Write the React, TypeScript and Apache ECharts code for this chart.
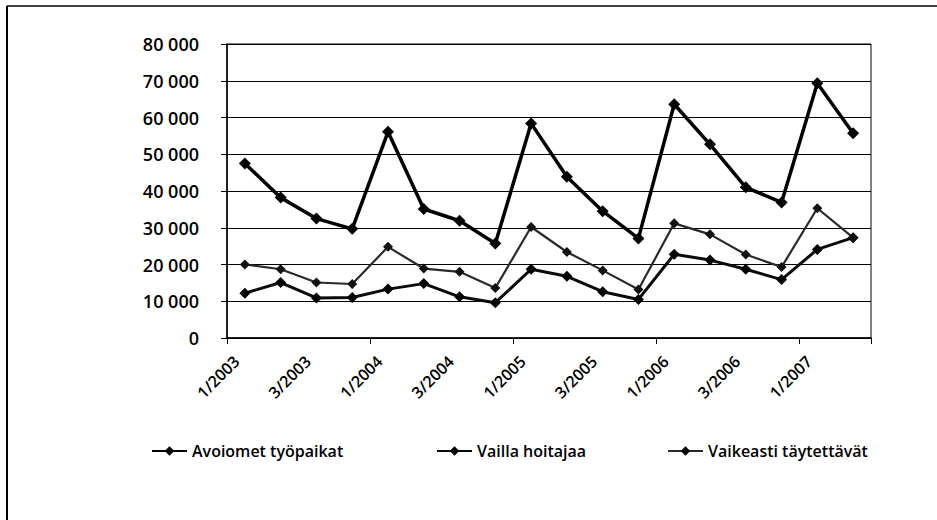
import React, { useEffect, useRef } from "react";
import * as echarts from "echarts";

const categories = [
  "1/2003", "2/2003", "3/2003", "4/2003",
  "1/2004", "2/2004", "3/2004", "4/2004",
  "1/2005", "2/2005", "3/2005", "4/2005",
  "1/2006", "2/2006", "3/2006", "4/2006",
  "1/2007", "2/2007",
];

const avoiomet = [47500, 38200, 32500, 29700, 56100, 35100, 31900, 25700, 58400, 43900, 34500, 27100, 63600, 52700, 41000, 36900, 69300, 55700];
const vaillaHoitajaa = [12200, 15100, 10900, 11000, 13300, 14800, 11200, 9600, 18700, 16800, 12600, 10500, 22800, 21200, 18700, 15900, 24100, 27300];
const vaikeasti = [20000, 18700, 15100, 14700, 24800, 18900, 18000, 13600, 30200, 23400, 18400, 13200, 31200, 28200, 22700, 19300, 35300, 27300];

const seriesNames = ["Avoiomet työpaikat", "Vailla hoitajaa", "Vaikeasti täytettävät"];

const FONT = "'Open Sans', 'DejaVu Sans', sans-serif";

export default function App() {
  const ref = useRef<HTMLDivElement>(null);
  useEffect(() => {
    if (!ref.current) return;
    const chart = echarts.init(ref.current, undefined, { renderer: "svg" });
    const legendBase = {
      itemWidth: 35,
      itemHeight: 12,
      itemGap: 6,
      top: 438,
      textStyle: { fontFamily: FONT, fontSize: 16, fontWeight: 600, color: "#000" },
      itemStyle: { color: "#000" },
    };
    chart.setOption({
      animation: false,
      backgroundColor: "#fff",
      graphic: [
        { type: "line", shape: { x1: 7, y1: 6, x2: 937, y2: 6 }, style: { stroke: "#000", lineWidth: 1.5 } },
        { type: "line", shape: { x1: 7, y1: 6, x2: 7, y2: 520 }, style: { stroke: "#000", lineWidth: 2 } },
      ],
      legend: [
        { ...legendBase, left: 146, data: [seriesNames[0]] },
        { ...legendBase, left: 431, data: [seriesNames[1]] },
        { ...legendBase, left: 662, data: [seriesNames[2]] },
      ],
      grid: {
        left: 227,
        right: 66,
        top: 44,
        bottom: 182,
        show: true,
        borderColor: "#000",
        borderWidth: 1,
      },
      xAxis: {
        type: "category",
        data: categories,
        boundaryGap: true,
        axisLine: { show: true, lineStyle: { color: "#000", width: 1.5 } },
        axisTick: { show: true, interval: 3, length: 6, lineStyle: { color: "#000" } },
        axisLabel: {
          interval: 1,
          rotate: 45,
          margin: 12,
          fontFamily: FONT,
          fontSize: 16,
          fontWeight: 600,
          color: "#000",
          padding: [0, 12, 0, 0],
        },
        splitLine: { show: false },
      },
      yAxis: {
        type: "value",
        min: 0,
        max: 80000,
        interval: 10000,
        axisLine: { show: true, lineStyle: { color: "#000", width: 1.5 } },
        axisTick: { show: true, length: 6, lineStyle: { color: "#000" } },
        axisLabel: {
          margin: 28,
          fontFamily: FONT,
          fontSize: 18,
          fontWeight: 600,
          color: "#000",
          formatter: (v: number) => String(v).replace(/\B(?=(\d{3})+(?!\d))/g, " "),
        },
        splitLine: { show: true, lineStyle: { color: "#000", width: 1 } },
      },
      series: [
        {
          name: seriesNames[0],
          type: "line",
          data: avoiomet,
          symbol: "diamond",
          symbolSize: 12,
          lineStyle: { color: "#000", width: 3.5 },
          itemStyle: { color: "#000" },
          z: 3,
        },
        {
          name: seriesNames[1],
          type: "line",
          data: vaillaHoitajaa,
          symbol: "diamond",
          symbolSize: 11,
          lineStyle: { color: "#0a0a0a", width: 3 },
          itemStyle: { color: "#000" },
          z: 2,
        },
        {
          name: seriesNames[2],
          type: "line",
          data: vaikeasti,
          symbol: "diamond",
          symbolSize: 10,
          lineStyle: { color: "#2a2a2a", width: 2.2 },
          itemStyle: { color: "#111" },
          z: 2,
        },
      ],
    });
    return () => chart.dispose();
  }, []);
  return (
    <div
      ref={ref}
      style={{ position: "fixed", left: 0, top: 0, width: 937, height: 520 }}
    />
  );
}
